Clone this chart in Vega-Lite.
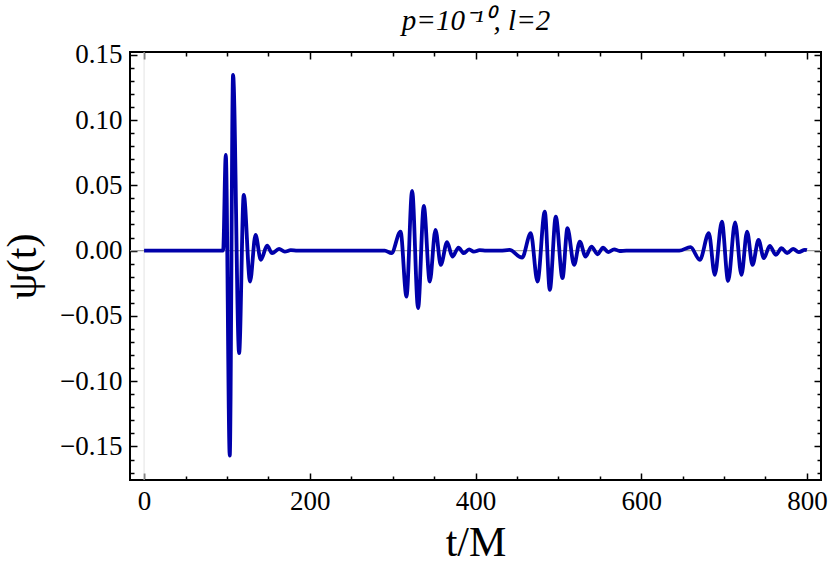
{
  "$schema": "https://vega.github.io/schema/vega-lite/v6.json",
  "width": 691,
  "height": 428,
  "autosize": {"type": "none"},
  "padding": {"left": 130, "top": 52, "right": 9, "bottom": 90},
  "background": "white",
  "data": {"values": [
    {"t": 0, "psi": 0}, {"t": 95.4, "psi": 0}, {"t": 98.6, "psi": 0.0733}, {"t": 103.4, "psi": -0.157},
    {"t": 107.4, "psi": 0.1346}, {"t": 114.7, "psi": -0.0786}, {"t": 120.3, "psi": 0.0427},
    {"t": 127.9, "psi": -0.0237}, {"t": 134.5, "psi": 0.012}, {"t": 140.9, "psi": -0.0071},
    {"t": 148.5, "psi": 0.0038}, {"t": 154.5, "psi": -0.002}, {"t": 162.9, "psi": 0.0013},
    {"t": 169.8, "psi": -0.0008}, {"t": 177, "psi": 0.0003}, {"t": 185, "psi": 0},
    {"t": 290.5, "psi": 0}, {"t": 298.6, "psi": -0.002}, {"t": 309.5, "psi": 0.0146},
    {"t": 316.7, "psi": -0.0352}, {"t": 323.5, "psi": 0.0457}, {"t": 330.7, "psi": -0.0441},
    {"t": 337.6, "psi": 0.0342}, {"t": 344.8, "psi": -0.0237}, {"t": 351.7, "psi": 0.0159},
    {"t": 358.1, "psi": -0.011}, {"t": 365.7, "psi": 0.0064}, {"t": 372.2, "psi": -0.0046},
    {"t": 379.5, "psi": 0.0023}, {"t": 385.9, "psi": -0.002}, {"t": 392.3, "psi": 0.001},
    {"t": 397.9, "psi": -0.0008}, {"t": 405, "psi": 0.0003}, {"t": 413, "psi": 0},
    {"t": 430, "psi": 0}, {"t": 441, "psi": 0.0005}, {"t": 456.2, "psi": -0.0054},
    {"t": 466.7, "psi": 0.0133}, {"t": 474.8, "psi": -0.0237}, {"t": 483.6, "psi": 0.0299},
    {"t": 489.7, "psi": -0.0301}, {"t": 496.9, "psi": 0.026}, {"t": 505, "psi": -0.0211},
    {"t": 511, "psi": 0.0171}, {"t": 519, "psi": -0.011}, {"t": 525.9, "psi": 0.0069},
    {"t": 532.8, "psi": -0.0046}, {"t": 540, "psi": 0.0031}, {"t": 547.3, "psi": -0.0028},
    {"t": 554, "psi": 0.0023}, {"t": 560.1, "psi": -0.0012}, {"t": 567.3, "psi": 0.001},
    {"t": 574, "psi": -0.0003}, {"t": 582, "psi": 0},
    {"t": 646, "psi": 0}, {"t": 659.5, "psi": 0.0026}, {"t": 670.7, "psi": -0.0071},
    {"t": 681.6, "psi": 0.0133}, {"t": 688.8, "psi": -0.0186}, {"t": 697.3, "psi": 0.0222},
    {"t": 704.9, "psi": -0.0232}, {"t": 713.3, "psi": 0.0215}, {"t": 721, "psi": -0.0186},
    {"t": 727.8, "psi": 0.0146}, {"t": 734.3, "psi": -0.011}, {"t": 741.6, "psi": 0.0082},
    {"t": 748, "psi": -0.0058}, {"t": 755.2, "psi": 0.0036}, {"t": 762.5, "psi": -0.0033},
    {"t": 769.3, "psi": 0.0018}, {"t": 776.1, "psi": -0.002}, {"t": 783.3, "psi": 0.0013},
    {"t": 790.2, "psi": -0.0012}, {"t": 797.5, "psi": 0.0006}, {"t": 800, "psi": 0.0003}
  ]},
  "layer": [
    {
      "data": {"values": [{}]},
      "mark": {"type": "rule", "color": "#e3e3e3", "strokeWidth": 1},
      "encoding": {
        "x": {"datum": 0, "type": "quantitative", "scale": {"domain": [-17, 817], "nice": false, "zero": false}, "axis": null}
      }
    },
    {
      "data": {"values": [{}]},
      "mark": {"type": "rule", "color": "#a0a0a0", "strokeWidth": 1.2},
      "encoding": {
        "y": {"datum": 0, "type": "quantitative", "scale": {"domain": [-0.1757, 0.1521], "nice": false, "zero": false}, "axis": null}
      }
    },
    {
      "mark": {"type": "line", "color": "#0000aa", "strokeWidth": 3.8, "interpolate": "monotone"},
      "encoding": {
        "x": {"field": "t", "type": "quantitative", "scale": {"domain": [-17, 817], "nice": false, "zero": false},
              "axis": {"orient": "bottom", "values": [0, 200, 400, 600, 800], "format": "d", "ticks": false, "labelPadding": 8, "title": "t/M", "titleFontSize": 42, "titlePadding": 8, "titleFontWeight": "normal"}},
        "y": {"field": "psi", "type": "quantitative", "scale": {"domain": [-0.1757, 0.1521], "nice": false, "zero": false},
              "axis": {"orient": "left", "values": [-0.15, -0.1, -0.05, 0, 0.05, 0.1, 0.15], "format": ".2f", "ticks": false, "labelPadding": 8, "title": "ψ(t)", "titleFontSize": 42, "titlePadding": 15, "titleFontWeight": "normal"}}
      }
    },
    {
      "data": {"values": [{}]},
      "mark": {"type": "point", "opacity": 0},
      "encoding": {
        "x": {"datum": 0, "type": "quantitative", "axis": {"orient": "bottom", "values": [0, 200, 400, 600, 800], "labels": false, "tickSize": -7, "title": null}},
        "y": {"datum": 0, "type": "quantitative", "axis": {"orient": "left", "values": [-0.15, -0.1, -0.05, 0, 0.05, 0.1, 0.15], "labels": false, "tickSize": -7, "title": null}}
      }
    },
    {
      "data": {"values": [{}]},
      "mark": {"type": "point", "opacity": 0},
      "encoding": {
        "x": {"datum": 0, "type": "quantitative", "axis": {"orient": "bottom", "values": [50, 100, 150, 250, 300, 350, 450, 500, 550, 650, 700, 750], "labels": false, "tickSize": -4, "title": null}},
        "y": {"datum": 0, "type": "quantitative", "axis": {"orient": "left", "values": [-0.17, -0.16, -0.14, -0.13, -0.12, -0.11, -0.09, -0.08, -0.07, -0.06, -0.04, -0.03, -0.02, -0.01, 0.01, 0.02, 0.03, 0.04, 0.06, 0.07, 0.08, 0.09, 0.11, 0.12, 0.13, 0.14], "labels": false, "tickSize": -4, "title": null}}
      }
    },
    {
      "data": {"values": [{}]},
      "mark": {"type": "point", "opacity": 0},
      "encoding": {
        "x": {"datum": 0, "type": "quantitative", "axis": {"orient": "top", "values": [0, 200, 400, 600, 800], "labels": false, "tickSize": -7, "title": "p=10⁻¹⁰, l=2", "titleFont": "Liberation Serif", "titleFontStyle": "italic", "titleFontWeight": "normal", "titleFontSize": 29, "titlePadding": 16}},
        "y": {"datum": 0, "type": "quantitative", "axis": {"orient": "right", "values": [-0.15, -0.1, -0.05, 0, 0.05, 0.1, 0.15], "labels": false, "tickSize": -7, "title": null}}
      }
    },
    {
      "data": {"values": [{}]},
      "mark": {"type": "point", "opacity": 0},
      "encoding": {
        "x": {"datum": 0, "type": "quantitative", "axis": {"orient": "top", "values": [50, 100, 150, 250, 300, 350, 450, 500, 550, 650, 700, 750], "labels": false, "tickSize": -4, "title": null}},
        "y": {"datum": 0, "type": "quantitative", "axis": {"orient": "right", "values": [-0.17, -0.16, -0.14, -0.13, -0.12, -0.11, -0.09, -0.08, -0.07, -0.06, -0.04, -0.03, -0.02, -0.01, 0.01, 0.02, 0.03, 0.04, 0.06, 0.07, 0.08, 0.09, 0.11, 0.12, 0.13, 0.14], "labels": false, "tickSize": -4, "title": null}}
      }
    }
  ],
  "resolve": {"axis": {"x": "independent", "y": "independent"}},
  "config": {
    "view": {"stroke": "black", "strokeWidth": 2},
    "axis": {"grid": false, "domain": false, "tickColor": "black", "tickWidth": 1.5, "labelFont": "Liberation Serif", "labelFontSize": 27, "labelColor": "black", "titleFont": "Liberation Serif", "titleColor": "black", "labelFlush": false, "labelOverlap": false}
  }
}
